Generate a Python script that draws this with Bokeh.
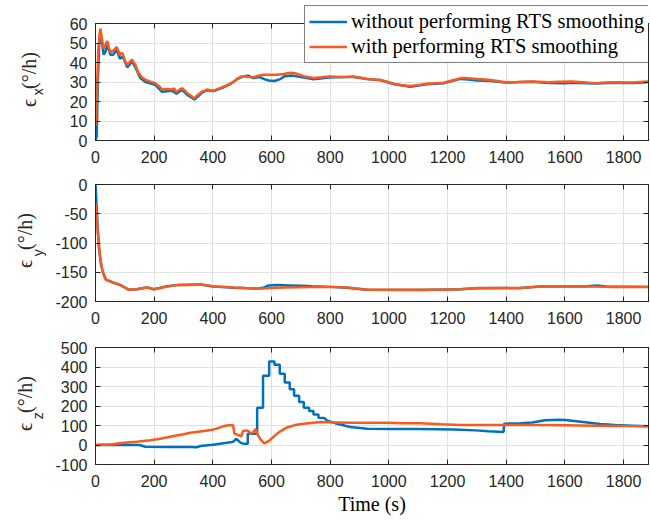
import math
from bokeh.plotting import figure
from bokeh.models import Range1d, LinearAxis, FixedTicker, Legend, LegendItem
from bokeh.layouts import column
from bokeh.embed import file_html
from bokeh.resources import INLINE

# ---------------- data ----------------
X_TICKS = [0, 200, 400, 600, 800, 1000, 1200, 1400, 1600, 1800]
X_MAX = 1885

Y1_TICKS = [0, 10, 20, 30, 40, 50, 60]
Y2_TICKS = [-200, -150, -100, -50, 0]
Y3_TICKS = [-100, 0, 100, 200, 300, 400, 500]

SERIES_NAMES = ["without performing RTS smoothing", "with performing RTS smoothing"]
X_LABEL = "Time (s)"
Y_SYMBOL = "ϵ"
Y_UNIT = "(°/h)"
Y_SUBS = ["x", "y", "z"]

# panel 1 : eps_x
ex_blue_t = [0, 4, 8, 13, 17, 22, 28, 35, 40, 51, 60, 72, 83, 93, 108, 125, 136, 153, 170, 204,
             227, 261, 276, 295, 312, 337, 363, 380, 403, 432, 460, 483, 505, 520, 539, 560, 575,
             590, 610, 630, 645, 670, 700, 744, 795, 850, 880, 926, 971, 1016, 1073, 1130, 1187,
             1244, 1261, 1300, 1340, 1397, 1488, 1545, 1600, 1624, 1704, 1772, 1840, 1885]
ex_blue_v = [0, 2, 30, 52, 55, 50, 44, 46, 49, 44, 44, 46.5, 42, 43, 37.5, 40.5, 37.5, 32, 30, 28.5,
             25, 25.5, 24, 26, 23.5, 21, 24.5, 25.8, 25.4, 27, 29, 31.5, 33, 33.2, 32, 32.5, 31.5,
             30.8, 30.5, 31.5, 33, 33.3, 32.5, 31.4, 32.3, 32.5, 32.6, 31.5, 30.9, 29.0, 27.6, 28.9, 29.4,
             31.6, 31.4, 30.8, 30.6, 29.7, 30.1, 29.5, 29.4, 29.6, 29.2, 29.6, 29.5, 30.0]

ex_orange_t = [0, 4, 9, 14, 17, 22, 28, 34, 40, 45, 51, 60, 72, 78, 83, 88, 93, 100, 108, 118,
               125, 130, 136, 145, 153, 162, 170, 185, 204, 215, 227, 245, 261, 268, 276, 286,
               295, 303, 312, 325, 337, 350, 363, 372, 380, 395, 403, 418, 432, 447, 460, 472,
               483, 495, 505, 520, 539, 555, 574, 596, 619, 640, 664, 685, 710, 744, 770, 795,
               840, 880, 905, 926, 950, 971, 995, 1016, 1045, 1073, 1100, 1130, 1160, 1187, 1215,
               1244, 1261, 1300, 1340, 1370, 1397, 1440, 1488, 1545, 1580, 1624, 1660, 1704,
               1740, 1772, 1810, 1840, 1885]
ex_orange_v = [7.7, 20, 45, 55, 57.3, 52, 47, 49, 51, 48, 45.3, 46, 47.9, 46, 43.6, 45, 44.4, 41, 38.8, 40.5,
               41.5, 40, 38.8, 35, 33.3, 32, 31.1, 30.3, 29.4, 28, 26.2, 26.4, 26.2, 26.7, 24.8, 26.1,
               26.8, 25.8, 24.4, 23, 21.7, 23.5, 25.1, 25.6, 26.1, 25.7, 25.6, 26.5, 27.3, 28.2, 29.1, 30.2,
               31.6, 32.7, 33, 32.6, 32.5, 33.2, 33.7, 33.7, 33.7, 34.1, 34.7, 34.3, 33, 32.1, 32.4, 32.8,
               32.6, 32.8, 32.2, 31.6, 31.3, 31.1, 30.1, 29.1, 28.3, 27.9, 28.4, 29.1, 29.4, 29.6, 30.8,
               32, 32, 31.5, 31.1, 30.5, 29.9, 30, 30.3, 29.9, 30.1, 30.3, 29.9, 29.4,
               29.7, 29.9, 29.8, 29.9, 30.3]

# panel 2 : eps_y
ey_blue_t = [0, 4, 8, 12, 18, 25, 36, 62, 85, 114, 142, 176, 199, 244, 278, 358, 403, 471, 551,
             575, 590, 620, 660, 700, 740, 800, 858, 926, 1107, 1244, 1300, 1448, 1516, 1675, 1710,
             1740, 1885]
ey_blue_v = [0, -40, -80, -110, -135, -150, -163, -168, -172, -180, -179, -176, -179, -174, -172, -171,
             -174.5, -176.5, -178, -176, -172.5, -172, -172.5, -173, -174, -175, -176.5, -180, -180.5,
             -179, -177.5, -177, -174.5, -174, -172.5, -174.5, -175]

ey_orange_t = [0, 5, 11, 17, 23, 34, 62, 85, 100, 114, 142, 160, 176, 199, 220, 244, 278, 320, 358,
               380, 403, 440, 471, 510, 551, 585, 642, 700, 755, 800, 858, 926, 1000, 1107, 1180,
               1244, 1300, 1380, 1448, 1516, 1600, 1675, 1750, 1820, 1885]
ey_orange_v = [-32, -60, -100, -128, -146, -162, -168, -171.5, -176, -180, -179, -177, -176, -179, -177,
               -174.5, -172, -172, -171, -172.5, -174.5, -175, -176, -177, -178, -177.5, -176, -175.5,
               -175, -175, -176, -180, -180, -180, -180, -179, -177, -177, -177, -174.5, -174.5,
               -174.5, -175, -175, -175]

# panel 3 : eps_z
ez_blue_t = [0, 60, 150, 170, 250, 324, 345, 358, 400, 437, 466, 472, 479, 487, 494, 505, 519, 519,
             551, 551, 571, 571, 592, 592, 610, 610, 628, 628, 645, 645, 662, 662, 677, 677, 694,
             694, 710, 710, 728, 728, 743, 743, 760, 760, 780, 790, 823, 869, 926, 1000, 1100, 1221,
             1295, 1340, 1391, 1393, 1450, 1488, 1533, 1580, 1601, 1669, 1720, 1771, 1830, 1885]
ez_blue_v = [0, 1, 0, -9, -10, -10, -12, -5, 1, 9, 15, 20, 32, 22, 12, 6, 6, 58,
             58, 191, 191, 355, 355, 428, 428, 411, 411, 366, 366, 320, 320, 286, 286, 252, 252,
             221, 221, 191, 191, 174, 174, 157, 157, 140, 138, 125, 109, 92, 83, 82, 82, 80,
             75, 71, 67, 109, 112, 115, 127, 129, 128, 117, 108, 102, 99, 96]

ez_orange_t = [0, 50, 97, 140, 187, 221, 267, 300, 324, 369, 403, 420, 437, 455, 469, 473, 485, 497,
               503, 515, 522, 530, 538, 545, 552, 562, 575, 590, 605, 619, 630, 653, 680, 710, 767,
               820, 880, 994, 1050, 1107, 1180, 1244, 1320, 1400, 1500, 1600, 1700, 1800, 1885]
ez_orange_v = [0, 3, 11, 17, 24, 32, 46, 55, 63, 72, 80, 88, 97, 101, 102, 60, 52, 45,
               72, 75, 70, 58, 66, 82, 55, 30, 8, 20, 40, 58, 70, 90, 102, 109, 118,
               116, 114, 114, 112, 111, 106, 102, 102, 102, 103, 101, 99, 97, 96]

# ---------------- style ----------------
BLUE = "#0072BD"
ORANGE = "#F95A1E"
AX = "#262626"
GRID = "#e1e1e1"
SANS = "Liberation Sans"
SERIF = "Liberation Serif"
LW = 2.5
NB = "\u00a0"

FRAME_L = 95
FRAME_W = 553
FRAME_H = 117
WIDTH = FRAME_L + FRAME_W + 1


def style_axis(ax, labels=True, standoff=8):
    ax.major_tick_in = 5
    ax.major_tick_out = 0
    ax.minor_tick_line_color = None
    ax.axis_line_color = AX
    ax.axis_line_width = 1
    ax.major_tick_line_color = AX
    ax.major_label_text_font = SANS
    if labels:
        ax.major_label_text_color = AX
        ax.major_label_text_font_size = "16px"
        ax.major_label_standoff = standoff
    else:
        ax.major_label_text_color = None
        ax.major_label_text_font_size = "1px"
        ax.major_label_standoff = 0


def text_axis(label, font, size, standoff):
    # an axis without ticks, used only to carry a rotated text beside the frame
    ax = LinearAxis(ticker=FixedTicker(ticks=[]), axis_label=label)
    ax.axis_line_color = None
    ax.major_tick_line_color = None
    ax.minor_tick_line_color = None
    ax.major_tick_in = 0
    ax.major_tick_out = 0
    ax.major_label_standoff = 0
    ax.major_label_text_font_size = "1px"
    ax.major_label_text_color = None
    ax.axis_label_text_font = font
    ax.axis_label_text_font_size = size
    ax.axis_label_text_font_style = "normal"
    ax.axis_label_text_color = AX
    ax.axis_label_standoff = standoff
    return ax


def make_panel(ylo, yhi, yticks, height, top, bottom, t_b, v_b, t_o, v_o, sub, sub_so, main_so):
    p = figure(width=WIDTH, height=height, x_range=Range1d(0, X_MAX), y_range=Range1d(ylo, yhi),
               output_backend="svg", toolbar_location=None, title=None,
               min_border_left=FRAME_L, min_border_right=1,
               min_border_top=top, min_border_bottom=bottom)
    p.add_layout(LinearAxis(), "above")
    p.add_layout(LinearAxis(), "right")
    p.xaxis.ticker = FixedTicker(ticks=X_TICKS)
    p.yaxis.ticker = FixedTicker(ticks=yticks)
    for ax in p.below:
        style_axis(ax, True, 10)
    for ax in p.left:
        style_axis(ax, True, 8)
        ax.major_label_overrides = {t: str(t) for t in yticks}
    for ax in p.above + p.right:
        style_axis(ax, False)
    p.xgrid.ticker = FixedTicker(ticks=X_TICKS)
    p.ygrid.ticker = FixedTicker(ticks=yticks)
    p.grid.grid_line_color = GRID
    p.grid.grid_line_width = 1
    p.outline_line_color = AX
    p.background_fill_color = "white"
    p.border_fill_color = "white"

    rb = p.line(t_b, v_b, line_color=BLUE, line_width=LW)
    ro = p.line(t_o, v_o, line_color=ORANGE, line_width=LW)

    # y label: subscript (nearer the ticks) and the main symbol + unit further out
    p.add_layout(text_axis(sub + NB * 5, SANS, "14px", sub_so), "left")
    p.add_layout(text_axis(NB + Y_SYMBOL + NB * 2 + Y_UNIT, SERIF, "20px", main_so), "left")
    return p, rb, ro


p1, b1, o1 = make_panel(0, 60, Y1_TICKS, 23 + FRAME_H + 30, 23, 30,
                        ex_blue_t, ex_blue_v, ex_orange_t, ex_orange_v, Y_SUBS[0], 21, -13)
p2, b2, o2 = make_panel(-200, 0, Y2_TICKS, 14 + FRAME_H + 30, 14, 30,
                        ey_blue_t, ey_blue_v, ey_orange_t, ey_orange_v, Y_SUBS[1], 7, -9)
p3, b3, o3 = make_panel(-100, 500, Y3_TICKS, 16 + FRAME_H + 53, 16, 53,
                        ez_blue_t, ez_blue_v, ez_orange_t, ez_orange_v, Y_SUBS[2], 7, -9)

xa = p3.below[0]
xa.axis_label = X_LABEL
xa.axis_label_text_font = SERIF
xa.axis_label_text_font_size = "20px"
xa.axis_label_text_font_style = "normal"
xa.axis_label_text_color = "black"
xa.axis_label_standoff = 3

# ---- legend: drawn on a transparent figure laid over the top of the page ----
# the key lines reuse the panel-1 series, kept out of this figure's visible range
OV_H = 66
ov = figure(width=WIDTH, height=OV_H, x_range=Range1d(0, X_MAX), y_range=Range1d(1000, 1001),
            output_backend="svg", toolbar_location=None, title=None,
            x_axis_location=None, y_axis_location=None,
            min_border_left=FRAME_L, min_border_right=1, min_border_top=0, min_border_bottom=0)
ov.grid.visible = False
ov.outline_line_color = None
ov.background_fill_color = None
ov.border_fill_color = None
ov.styles = {"position": "absolute", "top": "0px", "left": "0px", "z-index": "10"}
key_b = ov.line(ex_blue_t, ex_blue_v, line_color=BLUE, line_width=LW)
key_o = ov.line(ex_orange_t, ex_orange_v, line_color=ORANGE, line_width=LW)

legend = Legend(items=[LegendItem(label=SERIES_NAMES[0], renderers=[key_b]),
                       LegendItem(label=SERIES_NAMES[1], renderers=[key_o])],
                location=(304 - FRAME_L, 3))
legend.label_text_font = SERIF
legend.label_text_font_size = "20.5px"
legend.label_text_color = "black"
legend.border_line_color = "black"
legend.border_line_width = 1
legend.background_fill_color = "white"
legend.background_fill_alpha = 1
legend.glyph_width = 38
legend.glyph_height = 23
legend.label_height = 23
legend.label_standoff = 4
legend.padding = 4
legend.spacing = 2
legend.margin = 0
ov.add_layout(legend)

layout = column(ov, p1, p2, p3, spacing=0)
open("out.html", "w").write(file_html(layout, INLINE))
